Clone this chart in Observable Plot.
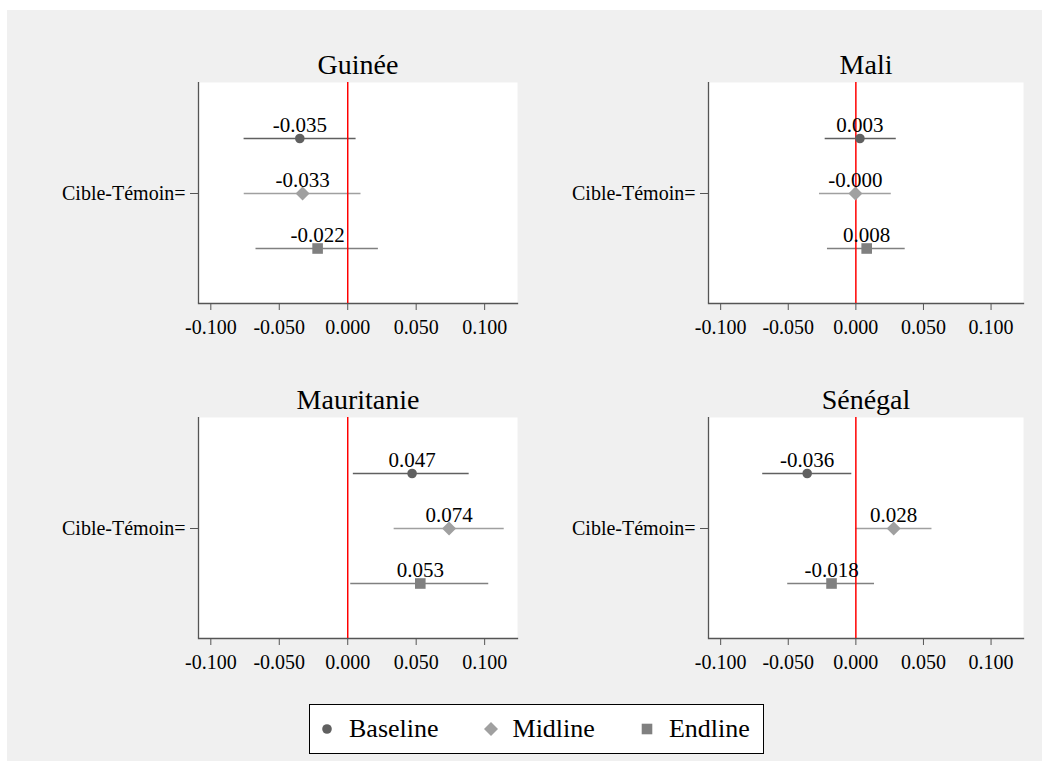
<!DOCTYPE html>
<html>
<head>
<meta charset="utf-8">
<script src="https://cdn.jsdelivr.net/npm/d3@7"></script>
<script src="https://cdn.jsdelivr.net/npm/@observablehq/plot@0.6"></script>
<style>
  body { margin: 0; background: #fff; }
  #page { position: relative; width: 1049px; height: 771px; background: #fff; overflow: hidden;
          font-family: "Liberation Serif", "Times New Roman", serif; }
  #bg { position: absolute; left: 7px; top: 10px; width: 1035px; height: 751px; background: #f0f0f0; }
  .panel { position: absolute; }
  #legend { position: absolute; left: 309px; top: 704px; width: 455px; height: 50px; box-sizing: border-box;
            border: 1px solid #000; background: #fff; display: flex; align-items: center; padding-left: 11px;
            font-size: 26px; color: #000; }
  #legend .item { display: flex; align-items: center; margin-right: 46px; }
  #legend .item:last-child { margin-right: 0; }
  #legend svg { margin-right: 16px; overflow: visible; }
</style>
</head>
<body>
<div id="page"><div id="bg"></div><div id="legend"></div></div>
<script>
// ---------------- data ----------------
const countries = ["Guinée", "Mali", "Mauritanie", "Sénégal"];
const series = ["Baseline", "Midline", "Endline"];
const seriesColors = ["#606060", "#a0a0a0", "#808080"];
const seriesSymbols = ["circle", "diamond", "square"];
const rowLabel = ["Cible-Témoin="];
const xTicks = [-0.1, -0.05, 0, 0.05, 0.1];
const xDomain = [-0.109, 0.124];

// point estimates [Baseline, Midline, Endline]
const estGuinee = [-0.035, -0.033, -0.022];
const estMali = [0.003, -0.0003, 0.008];
const estMauritanie = [0.047, 0.074, 0.053];
const estSenegal = [-0.036, 0.028, -0.018];

// confidence interval bounds
const loGuinee = [-0.0757, -0.0756, -0.067];
const hiGuinee = [0.0061, 0.0097, 0.0224];
const loMali = [-0.0227, -0.0269, -0.021];
const hiMali = [0.0299, 0.0262, 0.0365];
const loMauritanie = [0.0041, 0.0339, 0.0022];
const hiMauritanie = [0.0887, 0.1143, 0.103];
const loSenegal = [-0.0689, 0.0000, -0.0504];
const hiSenegal = [-0.003, 0.0563, 0.0138];

// ---------------- build ----------------
const est = [estGuinee, estMali, estMauritanie, estSenegal];
const lo = [loGuinee, loMali, loMauritanie, loSenegal];
const hi = [hiGuinee, hiMali, hiMauritanie, hiSenegal];

// marker shapes (half-size in px given through r)
const shapes = {
  circle: {draw(ctx, size) { const r = Math.sqrt(size / Math.PI); ctx.moveTo(r, 0); ctx.arc(0, 0, r, 0, 2 * Math.PI); ctx.closePath(); }},
  diamond: {draw(ctx, size) { const h = Math.sqrt(size / Math.PI); ctx.moveTo(0, -h); ctx.lineTo(h, 0); ctx.lineTo(0, h); ctx.lineTo(-h, 0); ctx.closePath(); }},
  square: {draw(ctx, size) { const h = Math.sqrt(size / Math.PI); ctx.rect(-h, -h, 2 * h, 2 * h); }}
};
const markerR = [4.8, 7, 5.3];
const font = "Liberation Serif, Times New Roman, serif";

// layout: placement of each panel svg
const layout = [
  {left: 0, top: 0, mr: 7},
  {left: 510, top: 0, mr: 11},
  {left: 0, top: 335, mr: 7},
  {left: 510, top: 335, mr: 11}
];

const page = document.getElementById("page");

countries.forEach((country, ci) => {
  const rows = series.map((s, i) => ({series: s, est: est[ci][i], lo: lo[ci][i], hi: hi[ci][i]}));
  const L = layout[ci];
  const chart = Plot.plot({
    width: 524,
    height: 348,
    marginLeft: 198,
    marginRight: L.mr,
    marginTop: 82,
    marginBottom: 45,
    style: {background: "transparent", fontFamily: font, fontSize: "20px", color: "#000", overflow: "visible"},
    x: {domain: xDomain},
    y: {type: "point", domain: series, padding: 1},
    color: {type: "ordinal", domain: series, range: seriesColors},
    marks: [
      Plot.frame({fill: "white", stroke: null}),
      Plot.ruleX([xDomain[0]], {stroke: "#555", strokeWidth: 1.3}),
      Plot.frame({anchor: "bottom", stroke: "#555", strokeWidth: 1.3}),
      Plot.axisX(xTicks, {tickFormat: d => d.toFixed(3), tickSize: 7, tickPadding: 9, stroke: "#555", fill: "#000", label: null, fontSize: 20}),
      Plot.axisY([series[1]], {tickFormat: () => rowLabel[0], tickSize: 8, tickPadding: 5, stroke: "#555", fill: "#000", label: null, fontSize: 20}),
      Plot.ruleY(rows, {y: "series", x1: "lo", x2: "hi", stroke: "series", strokeWidth: 1.6}),
      Plot.ruleX([0], {stroke: "#ff0000", strokeWidth: 1.5}),
      ...series.map((s, i) => Plot.dot(rows.filter(d => d.series === s), {
        x: "est", y: "series", fill: "series", symbol: shapes[seriesSymbols[i]], r: markerR[i], stroke: null
      })),
      Plot.text(rows, {x: "est", y: "series", text: d => d.est.toFixed(3), dy: -7, lineAnchor: "bottom", fontSize: 21, fill: "#000"}),
      Plot.text([country], {frameAnchor: "top", dy: -9, lineAnchor: "bottom", fontSize: 28, fill: "#000"})
    ]
  });
  const wrap = document.createElement("div");
  wrap.className = "panel";
  wrap.style.left = L.left + "px";
  wrap.style.top = L.top + "px";
  wrap.appendChild(chart);
  page.appendChild(wrap);
});

// ---------------- legend ----------------
const legend = d3.select("#legend");
series.forEach((s, i) => {
  const item = legend.append("div").attr("class", "item");
  const svg = item.append("svg").attr("width", 12).attr("height", 12);
  svg.append("path")
    .attr("transform", "translate(6,6)")
    .attr("d", d3.symbol(shapes[seriesSymbols[i]], Math.PI * markerR[i] * markerR[i])())
    .attr("fill", seriesColors[i]);
  item.append("span").text(s);
});
</script>
</body>
</html>
